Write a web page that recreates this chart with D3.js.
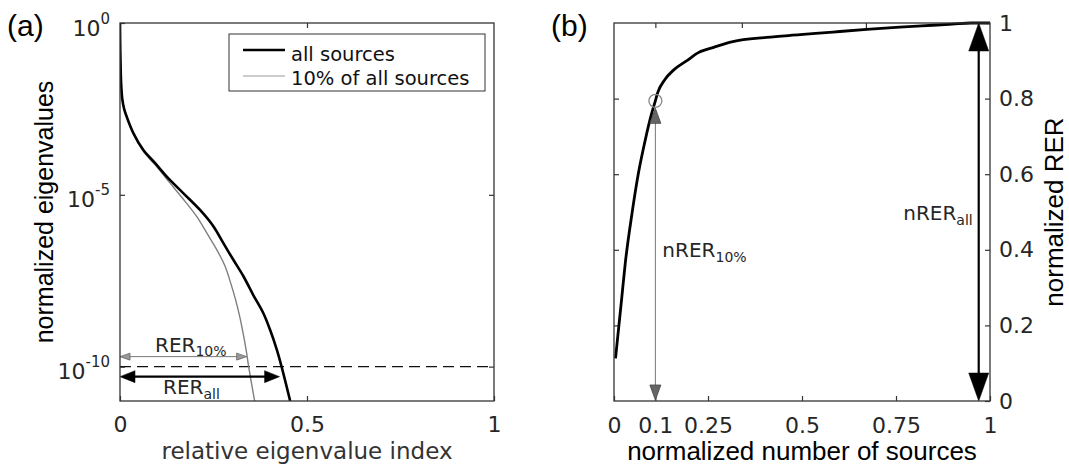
<!DOCTYPE html>
<html><head><meta charset="utf-8">
<script src="https://cdn.jsdelivr.net/npm/d3@7"></script>
<style>body{margin:0;background:#fff} svg{display:block}</style>
</head><body>
<svg id="fig" width="1069" height="466"></svg>
<script>
// ---- (a) eigenvalue spectra: relative index vs. log10(normalized eigenvalue)
const allIdx = [0, 0.0004, 0.0015, 0.003, 0.006, 0.011, 0.019, 0.036, 0.062, 0.094, 0.125, 0.169, 0.214, 0.250, 0.276, 0.303, 0.330, 0.356, 0.383, 0.402, 0.419, 0.432, 0.455];
const allLog = [0, -0.5, -1.2, -1.75, -2.2, -2.5, -2.76, -3.21, -3.69, -4.08, -4.47, -4.95, -5.44, -5.92, -6.40, -6.89, -7.37, -7.91, -8.44, -8.95, -9.5, -10, -11];
const subIdx = [0, 0.0004, 0.0015, 0.003, 0.006, 0.011, 0.019, 0.036, 0.060, 0.098, 0.134, 0.174, 0.205, 0.232, 0.259, 0.281, 0.296, 0.309, 0.320, 0.329, 0.337, 0.344, 0.360];
const subLog = [0, -0.5, -1.2, -1.75, -2.2, -2.5, -2.76, -3.21, -3.70, -4.18, -4.66, -5.19, -5.63, -6.11, -6.6, -7.08, -7.57, -8.05, -8.54, -9.02, -9.5, -10, -11];
const thresholdLog = -10;           // eigenvalue cut-off 10^-10
const rer10 = 0.344, rerAll = 0.432; // where each spectrum crosses the cut-off
const aXTicks = [0, 0.5, 1];
const aXTickLabels = ["0", "0.5", "1"];
const aYTickExp = [0, -5, -10];
const legendLabels = ["all sources", "10% of all sources"];

// ---- (b) normalized RER vs. normalized number of sources
const nSrc = [0.004, 0.020, 0.030, 0.048, 0.065, 0.083, 0.100, 0.110, 0.116, 0.135, 0.159, 0.196, 0.223, 0.263, 0.316, 0.406, 0.495, 0.582, 0.672, 0.760, 0.848, 0.900, 0.950, 1.0];
const nRer = [0.113, 0.267, 0.365, 0.497, 0.603, 0.690, 0.760, 0.794, 0.815, 0.850, 0.876, 0.902, 0.921, 0.935, 0.951, 0.962, 0.969, 0.976, 0.983, 0.989, 0.994, 0.997, 1.0, 1.0];
const n10X = 0.11, n10Y = 0.794;   // subset with 10% of sources
const nAllX = 0.97, nAllY = 1.0;   // all sources
const bXTicks = [0, 0.11, 0.25, 0.5, 0.75, 1];
const bXTickLabels = ["0", "0.1", "0.25", "0.5", "0.75", "1"];
const bTopTicks = [0.11, 0.34, 0.67];
const bYTicks = [0, 0.2, 0.4, 0.6, 0.8, 1];
const bYTickLabels = ["0", "0.2", "0.4", "0.6", "0.8", "1"];

const svg = d3.select("#fig");
const DV = "DejaVu Sans", LS = "Liberation Sans, Arial, sans-serif";
const axisCol = "#333", txtCol = "#262626";

const A = {l: 120, r: 494, t: 23, b: 401};
const B = {l: 614, r: 990, t: 23, b: 401};

const xA = d3.scaleLinear().domain([0, 1]).range([A.l, A.r]);
const yA = d3.scaleLinear().domain([-11, 0]).range([A.b, A.t]);
const xB = d3.scaleLinear().domain([0, 1]).range([B.l, B.r]);
const yB = d3.scaleLinear().domain([0, 1]).range([B.b, B.t]);

function styleAxis(g) {
  g.select(".domain").remove();
  g.selectAll(".tick line").attr("stroke", axisCol).attr("stroke-width", 1.2);
  g.selectAll(".tick text").attr("font-family", DV).attr("font-size", 22).attr("fill", txtCol);
}

function doubleArrow(g, p0, p1, o) {
  const dx = p1[0] - p0[0], dy = p1[1] - p0[1], L = Math.hypot(dx, dy);
  const ux = dx / L, uy = dy / L, nx = -uy, ny = ux;
  const a = [p0[0] + ux * o.len, p0[1] + uy * o.len];
  const b = [p1[0] - ux * o.len, p1[1] - uy * o.len];
  g.append("line").attr("x1", a[0] - ux).attr("y1", a[1] - uy).attr("x2", b[0] + ux).attr("y2", b[1] + uy)
    .attr("stroke", o.line).attr("stroke-width", o.lw);
  [[p0, a], [p1, b]].forEach(([tip, base]) => {
    g.append("path")
      .attr("d", `M${tip[0]},${tip[1]}L${base[0] + nx * o.w},${base[1] + ny * o.w}L${base[0] - nx * o.w},${base[1] - ny * o.w}Z`)
      .attr("fill", o.fill).attr("stroke", o.stroke).attr("stroke-width", o.sw).attr("stroke-linejoin", "miter");
  });
}

// ================= panel (a) =================
const gA = svg.append("g");

gA.append("g").attr("transform", `translate(0,${A.b})`)
  .call(d3.axisBottom(xA).tickValues(aXTicks).tickFormat((d, i) => aXTickLabels[i]).tickSizeInner(-5).tickSizeOuter(0).tickPadding(15))
  .call(styleAxis);
gA.append("g").attr("transform", `translate(0,${A.t})`)
  .call(d3.axisTop(xA).tickValues([0.5]).tickFormat("").tickSizeInner(-5).tickSizeOuter(0))
  .call(styleAxis);
gA.append("g").attr("transform", `translate(${A.r},0)`)
  .call(d3.axisRight(yA).tickValues([-5, -10]).tickFormat("").tickSizeInner(-5).tickSizeOuter(0))
  .call(styleAxis);
const yAxA = gA.append("g").attr("transform", `translate(${A.l},0)`)
  .call(d3.axisLeft(yA).tickValues(aYTickExp).tickFormat("").tickSizeInner(-5).tickSizeOuter(0))
  .call(styleAxis);
yAxA.selectAll(".tick").each(function (d) {
  const t = d3.select(this).append("text").attr("x", -10).attr("y", 12)
    .attr("text-anchor", "end").attr("font-family", DV).attr("font-size", 22).attr("fill", txtCol);
  t.append("tspan").text("10");
  t.append("tspan").attr("dy", -12).attr("font-size", 15).text(d === 0 ? "0" : String(d));
});

// cut-off
gA.append("line").attr("x1", A.l).attr("x2", A.r).attr("y1", yA(thresholdLog)).attr("y2", yA(thresholdLog))
  .attr("stroke", "#111").attr("stroke-width", 1.3).attr("stroke-dasharray", "11,6");

// spectra
const lineA = d3.line().x(d => xA(d[0])).y(d => yA(d[1])).curve(d3.curveCatmullRom.alpha(0.5));
gA.append("clipPath").attr("id", "clipA").append("rect")
  .attr("x", A.l).attr("y", A.t).attr("width", A.r - A.l).attr("height", A.b - A.t);
gA.append("path").datum(d3.zip(subIdx, subLog)).attr("d", lineA).attr("clip-path", "url(#clipA)")
  .attr("fill", "none").attr("stroke", "#7f7f7f").attr("stroke-width", 1.4);
gA.append("path").datum(d3.zip(allIdx, allLog)).attr("d", lineA).attr("clip-path", "url(#clipA)")
  .attr("fill", "none").attr("stroke", "#000").attr("stroke-width", 2.6);

// RER arrows
const y10 = yA(thresholdLog) - 10, yAll = yA(thresholdLog) + 10;
doubleArrow(gA, [xA(0), y10], [xA(rer10) - 2, y10], {len: 10, w: 3.5, lw: 1, line: "#777", fill: "#999", stroke: "#666", sw: 0.8});
doubleArrow(gA, [xA(0), yAll], [xA(rerAll) - 2, yAll], {len: 15, w: 6, lw: 2.4, line: "#000", fill: "#000", stroke: "#000", sw: 0.5});

const t10 = gA.append("text").attr("x", 155).attr("y", y10 - 5).attr("font-family", DV).attr("font-size", 20).attr("fill", txtCol);
t10.append("tspan").text("RER");
t10.append("tspan").attr("dy", 4).attr("font-size", 14).text("10%");
const tAll = gA.append("text").attr("x", 163).attr("y", yAll + 17).attr("font-family", DV).attr("font-size", 20).attr("fill", txtCol);
tAll.append("tspan").text("RER");
tAll.append("tspan").attr("dy", 5).attr("font-size", 14).text("all");

// frame
gA.append("rect").attr("x", A.l).attr("y", A.t).attr("width", A.r - A.l).attr("height", A.b - A.t)
  .attr("fill", "none").attr("stroke", axisCol).attr("stroke-width", 1.3);

// legend
const lg = gA.append("g");
lg.append("rect").attr("x", 229).attr("y", 34).attr("width", 256).attr("height", 57)
  .attr("fill", "#fff").attr("stroke", axisCol).attr("stroke-width", 1);
[["#000", 2.6, 50, 61], ["#999", 1.2, 76, 85]].forEach(([c, w, ly, ty], i) => {
  lg.append("line").attr("x1", 243).attr("x2", 285).attr("y1", ly).attr("y2", ly).attr("stroke", c).attr("stroke-width", w);
  lg.append("text").attr("x", 291).attr("y", ty).attr("font-family", DV).attr("font-size", 19.5).attr("fill", "#111")
    .text(legendLabels[i]);
});

// axis titles
gA.append("text").attr("x", (A.l + A.r) / 2).attr("y", 459).attr("text-anchor", "middle")
  .attr("font-family", DV).attr("font-size", 23).attr("fill", "#333").text("relative eigenvalue index");
gA.append("text").attr("transform", `translate(53,${(A.t + A.b) / 2}) rotate(-90)`).attr("text-anchor", "middle")
  .attr("font-family", LS).attr("font-size", 25).attr("fill", "#000").text("normalized eigenvalues");
gA.append("text").attr("x", 7).attr("y", 36).attr("font-family", LS).attr("font-size", 30).attr("fill", "#000").text("(a)");

// ================= panel (b) =================
const gB = svg.append("g");

gB.append("g").attr("transform", `translate(0,${B.b})`)
  .call(d3.axisBottom(xB).tickValues(bXTicks).tickFormat((d, i) => bXTickLabels[i]).tickSizeInner(-5).tickSizeOuter(0).tickPadding(16))
  .call(styleAxis);
gB.append("g").attr("transform", `translate(0,${B.t})`)
  .call(d3.axisTop(xB).tickValues(bTopTicks).tickFormat("").tickSizeInner(-5).tickSizeOuter(0))
  .call(styleAxis);
gB.append("g").attr("transform", `translate(${B.l},0)`)
  .call(d3.axisLeft(yB).tickValues(bYTicks.slice(1, -1)).tickFormat("").tickSizeInner(-5).tickSizeOuter(0))
  .call(styleAxis);
gB.append("g").attr("transform", `translate(${B.r},0)`)
  .call(d3.axisRight(yB).tickValues(bYTicks).tickFormat((d, i) => bYTickLabels[i]).tickSizeInner(-5).tickSizeOuter(0).tickPadding(9))
  .call(styleAxis);

// RER curve
const lineB = d3.line().x(d => xB(d[0])).y(d => yB(d[1])).curve(d3.curveMonotoneX);
gB.append("path").datum(d3.zip(nSrc, nRer)).attr("d", lineB)
  .attr("fill", "none").attr("stroke", "#000").attr("stroke-width", 2.8).attr("stroke-linejoin", "round");

// 10% marker and arrow
const cr = 6.5;
gB.append("circle").attr("cx", xB(n10X)).attr("cy", yB(n10Y)).attr("r", cr)
  .attr("fill", "none").attr("stroke", "#888").attr("stroke-width", 1.3);
doubleArrow(gB, [xB(n10X), yB(0) - 1], [xB(n10X), yB(n10Y) + cr + 1], {len: 15, w: 5.5, lw: 1, line: "#777", fill: "#666", stroke: "#444", sw: 0.8});
const tn10 = gB.append("text").attr("x", xB(n10X) + 7).attr("y", 257).attr("font-family", DV).attr("font-size", 20).attr("fill", txtCol);
tn10.append("tspan").text("nRER");
tn10.append("tspan").attr("dy", 5).attr("font-size", 14).text("10%");

// all-sources arrow
doubleArrow(gB, [xB(nAllX), yB(0)], [xB(nAllX), yB(nAllY)], {len: 28, w: 10, lw: 2.2, line: "#000", fill: "#000", stroke: "#000", sw: 0.5});
const tnAll = gB.append("text").attr("x", xB(nAllX) - 6).attr("y", 220).attr("text-anchor", "end")
  .attr("font-family", DV).attr("font-size", 20).attr("fill", txtCol);
tnAll.append("tspan").text("nRER");
tnAll.append("tspan").attr("dy", 5).attr("font-size", 14).text("all");

// frame
gB.append("rect").attr("x", B.l).attr("y", B.t).attr("width", B.r - B.l).attr("height", B.b - B.t)
  .attr("fill", "none").attr("stroke", axisCol).attr("stroke-width", 1.3);

// axis titles
gB.append("text").attr("x", (B.l + B.r) / 2).attr("y", 460).attr("text-anchor", "middle")
  .attr("font-family", LS).attr("font-size", 26).attr("fill", "#000").text("normalized number of sources");
gB.append("text").attr("transform", `translate(1063,${(B.t + B.b) / 2}) rotate(-90)`).attr("text-anchor", "middle")
  .attr("font-family", LS).attr("font-size", 26).attr("fill", "#000").text("normalized RER");
gB.append("text").attr("x", 551).attr("y", 36).attr("font-family", LS).attr("font-size", 30).attr("fill", "#000").text("(b)");
</script>
</body></html>
